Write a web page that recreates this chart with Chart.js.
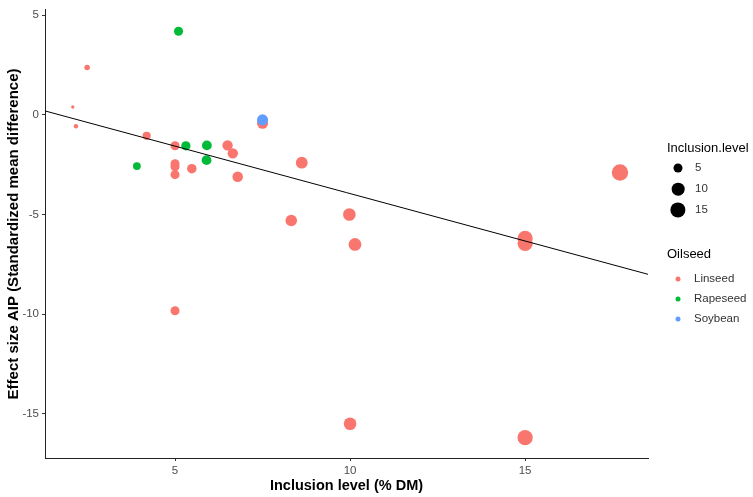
<!DOCTYPE html>
<html>
<head>
<meta charset="utf-8">
<script src="https://cdn.jsdelivr.net/npm/chart.js@4.4.0/dist/chart.umd.min.js"></script>
<style>
    body { margin: 0; background: #fff; font-family: "Liberation Sans", Arial, sans-serif; }
    #wrap { position: relative; width: 753px; height: 497px; }
    .lg { position: absolute; white-space: nowrap; transform: translateY(-50%); line-height: 1; }
    .lg-title { font-size: 13px; color: #000; }
    .lg-text { font-size: 11.5px; color: #333; }
    .dot { position: absolute; border-radius: 50%; transform: translate(-50%, -50%); }
</style>
</head>
<body>
<div id="wrap">
    <canvas id="chart" width="753" height="497"></canvas>
    <div id="legend"></div>
</div>
<script>
// inclusion level (% DM), effect size, oilseed
const inclusion = [2.08, 2.17, 2.49, 4.19, 5.0, 5.0, 5.0, 5.0, 5.48, 6.5, 6.65, 6.79, 7.5, 8.62, 8.32, 9.98, 10.14, 15.0, 15.0, 17.71, 5.0, 10.0, 15.0,
                   3.91, 5.1, 5.31, 5.91, 5.9,
                   7.5];
const effect = [0.4, -0.57, 2.38, -1.05, -1.55, -2.45, -3.0, -9.83, -2.7, -1.53, -1.93, -3.1, -0.42, -2.4, -5.3, -5.0, -6.5, -6.2, -6.45, -2.89, -2.6, -15.5, -16.2,
                -2.57, 4.2, -1.55, -1.53, -2.27,
                -0.25];
const oilseed = ['Linseed', 'Linseed', 'Linseed', 'Linseed', 'Linseed', 'Linseed', 'Linseed', 'Linseed', 'Linseed', 'Linseed', 'Linseed', 'Linseed', 'Linseed', 'Linseed', 'Linseed', 'Linseed', 'Linseed', 'Linseed', 'Linseed', 'Linseed', 'Linseed', 'Linseed', 'Linseed',
                 'Rapeseed', 'Rapeseed', 'Rapeseed', 'Rapeseed', 'Rapeseed',
                 'Soybean'];

const groups = ['Linseed', 'Rapeseed', 'Soybean'];
const groupColors = ['#F8766D', '#00BA38', '#619CFF'];

// fitted regression line, read at the panel edges
const fitX = [1.286, 18.51];
const fitY = [0.2, -8.0];

const xTicks = [5, 10, 15];
const yTicks = [-15, -10, -5, 0, 5];
const sizeBreaks = [5, 10, 15];

// ggplot-like area scale for point size
const sizeMin = Math.min(...inclusion);
const sizeMax = Math.max(...inclusion);
const pointRadius = (v) => {
    const s = 1 + 5 * Math.sqrt(Math.max(0, (v - sizeMin) / (sizeMax - sizeMin)));
    return (2.6 * s + 0.8) / 2;
};

document.addEventListener('DOMContentLoaded', function () {
    const pointDatasets = groups.map((g, gi) => {
        const pts = [];
        inclusion.forEach((x, i) => {
            if (oilseed[i] === g) pts.push({x: x, y: effect[i]});
        });
        return {
            type: 'scatter',
            label: g,
            data: pts,
            backgroundColor: groupColors[gi],
            borderWidth: 0,
            pointRadius: (ctx) => ctx.raw ? pointRadius(ctx.raw.x) : 3,
            pointHoverRadius: (ctx) => ctx.raw ? pointRadius(ctx.raw.x) : 3,
        };
    }).reverse();

    const lineDataset = {
        type: 'line',
        label: 'fit',
        data: fitX.map((x, i) => ({x: x, y: fitY[i]})),
        borderColor: '#000',
        borderWidth: 1,
        pointRadius: 0,
        fill: false,
    };

    const ctx = document.getElementById('chart').getContext('2d');
    new Chart(ctx, {
        type: 'scatter',
        data: {datasets: [lineDataset, ...pointDatasets]},
        options: {
            responsive: false,
            animation: false,
            layout: {padding: {top: 8, right: 105, left: 0, bottom: 0}},
            scales: {
                x: {
                    type: 'linear',
                    min: 1.286,
                    max: 18.51,
                    afterBuildTicks: (axis) => { axis.ticks = xTicks.map(v => ({value: v})); },
                    afterFit: (axis) => { axis.height = 39; },
                    grid: {display: true, drawOnChartArea: false, drawTicks: true, tickLength: 3, color: '#333'},
                    border: {display: true, color: '#222', width: 1},
                    ticks: {color: '#4D4D4D', font: {family: 'Liberation Sans', size: 11.5}, padding: 3, maxRotation: 0},
                    title: {
                        display: true,
                        text: 'Inclusion level (% DM)',
                        color: '#000',
                        font: {family: 'Liberation Sans', size: 14.5, weight: 'bold'},
                        padding: {top: 0, bottom: 2}
                    }
                },
                y: {
                    type: 'linear',
                    min: -17.22,
                    max: 5.27,
                    afterBuildTicks: (axis) => { axis.ticks = yTicks.map(v => ({value: v})); },
                    afterFit: (axis) => { axis.width = 45; },
                    grid: {display: true, drawOnChartArea: false, drawTicks: true, tickLength: 3, color: '#333'},
                    border: {display: true, color: '#222', width: 1},
                    ticks: {color: '#4D4D4D', font: {family: 'Liberation Sans', size: 11.5}, padding: 3},
                    title: {
                        display: true,
                        text: 'Effect size AIP (Standardized mean difference)',
                        color: '#000',
                        font: {family: 'Liberation Sans', size: 15, weight: 'bold'},
                        padding: {top: 5, bottom: 0}
                    }
                }
            },
            plugins: {
                legend: {display: false},
                tooltip: {enabled: false}
            }
        }
    });

    // legends
    const legend = document.getElementById('legend');
    const add = (html) => { legend.insertAdjacentHTML('beforeend', html); };

    add(`<div class="lg lg-title" style="left:667px;top:147px">Inclusion.level</div>`);
    const sizeRows = [168, 189, 210];
    sizeBreaks.forEach((b, i) => {
        const d = pointRadius(b) * 2;
        add(`<div class="dot" style="left:678px;top:${sizeRows[i]}px;width:${d}px;height:${d}px;background:#000"></div>`);
        add(`<div class="lg lg-text" style="left:695px;top:${sizeRows[i]}px">${b}</div>`);
    });

    add(`<div class="lg lg-title" style="left:667px;top:253px">Oilseed</div>`);
    const groupRows = [279, 299, 319];
    groups.forEach((g, i) => {
        add(`<div class="dot" style="left:678px;top:${groupRows[i]}px;width:5px;height:5px;background:${groupColors[i]}"></div>`);
        add(`<div class="lg lg-text" style="left:694px;top:${groupRows[i]}px">${g}</div>`);
    });
});
</script>
</body>
</html>
